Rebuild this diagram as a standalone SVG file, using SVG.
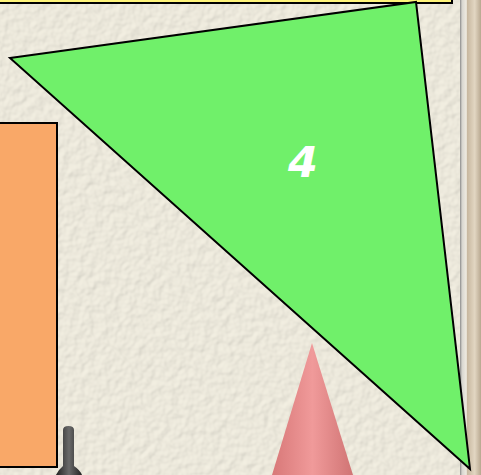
<svg xmlns="http://www.w3.org/2000/svg" width="481" height="475" viewBox="0 0 481 475">
<defs>
<style>
.edge{stroke:#000;stroke-width:2;stroke-linejoin:miter}
.label{font-family:"DejaVu Sans","Liberation Sans",sans-serif;font-weight:bold;font-style:italic;fill:#fff}
</style>
<filter id="tex" x="0" y="0" width="100%" height="100%">
<feTurbulence type="fractalNoise" baseFrequency="0.12" numOctaves="2" seed="3" result="n"/>
<feDiffuseLighting in="n" surfaceScale="1.6" lighting-color="#fbf9f0" result="l"><feDistantLight azimuth="225" elevation="55"/></feDiffuseLighting>
<feComposite in="l" in2="SourceGraphic" operator="arithmetic" k1="0.9" k2="0" k3="0" k4="0"/>
</filter>
<linearGradient id="frame" x1="0" x2="1" y1="0" y2="0">
<stop offset="0" stop-color="#8a8a8a"/>
<stop offset="0.1" stop-color="#d8d6d0"/>
<stop offset="0.3" stop-color="#eeeae0"/>
<stop offset="0.35" stop-color="#c8b8a0"/>
<stop offset="0.7" stop-color="#e2d6c2"/>
<stop offset="1" stop-color="#b8a890"/>
</linearGradient>
<linearGradient id="cone" x1="0" x2="1" y1="0" y2="0">
<stop offset="0" stop-color="#d87878"/>
<stop offset="0.5" stop-color="#f09a9a"/>
<stop offset="1" stop-color="#d07474"/>
</linearGradient>
<linearGradient id="bottle" x1="0" x2="1" y1="0" y2="0">
<stop offset="0" stop-color="#222"/>
<stop offset="0.5" stop-color="#6a6a6a"/>
<stop offset="1" stop-color="#222"/>
</linearGradient>
</defs>
<rect x="0" y="0" width="481" height="475" fill="#f5f2e8"/>
<rect x="0" y="0" width="481" height="475" fill="#f5f2e8" filter="url(#tex)" opacity="0.45"/>
<rect x="460" y="0" width="21" height="475" fill="url(#frame)"/>
<g id="banner"><rect class="edge" x="-5" y="-10" width="457" height="13" fill="#fff47a"/></g>
<g id="orange-box"><rect class="edge" x="-5" y="123" width="62" height="344" fill="#f9a868"/></g>
<g id="bottle"><path d="M63,430 Q63,426 68.5,426 Q74,426 74,430 L74,466 Q80,470 82,475 L56,475 Q58,470 63,466 Z" fill="url(#bottle)"/></g>
<g id="cone"><path d="M312,343 L353,475 L272,475 Z" fill="url(#cone)"/></g>
<g id="triangle">
<polygon class="edge" points="10,58 416,2 470,469" fill="#70f06a"/>
<text class="label" x="303" y="177" font-size="43" text-anchor="middle">4</text>
</g>
</svg>
